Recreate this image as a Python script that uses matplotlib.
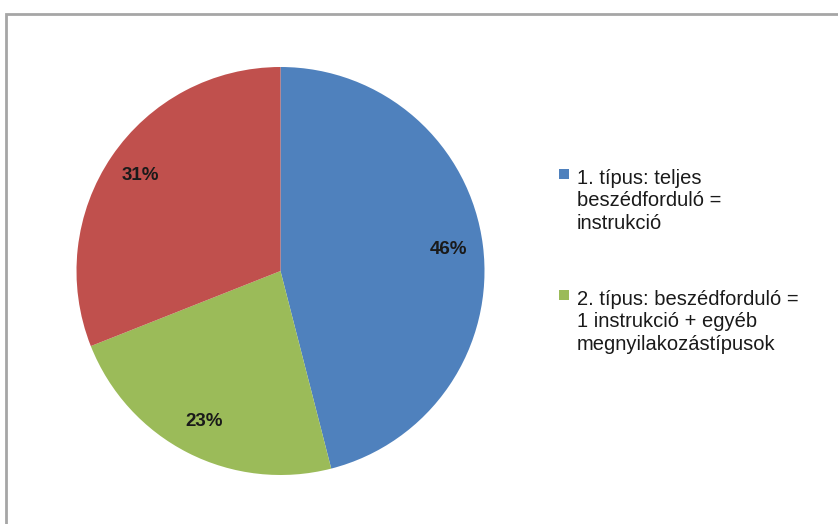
import matplotlib
matplotlib.use("Agg")
import matplotlib.pyplot as plt
from matplotlib.patches import Rectangle

categories = ["1. típus: teljes\nbeszédforduló =\ninstrukció",
              "2. típus: beszédforduló =\n1 instrukció + egyéb\nmegnyilakozástípusok",
              "3. típus"]
values = [46, 23, 31]
colors = ["#4F81BD", "#9BBB59", "#C0504D"]

plt.rcParams['font.family'] = ['Liberation Sans', 'DejaVu Sans']

W, H = 838, 524
fig = plt.figure(figsize=(W/100, H/100), dpi=100)
fig.patch.set_facecolor("white")

# outer frame (only top and left visible)
fig.patches.append(Rectangle((5.5/W, -0.2), 1.2, 1 - 13.5/H + 0.2, transform=fig.transFigure,
                             fill=False, edgecolor="#A6A6A6", linewidth=2))

cx, cy, r = 280.5, 271, 204
ax = fig.add_axes([(cx - r)/W, (H - cy - r)/H, 2*r/W, 2*r/H])
wedges, texts, autotexts = ax.pie(values, colors=colors, startangle=90, counterclock=False,
                                  autopct=lambda p: f"{p:.0f}%", pctdistance=0.83,
                                  radius=1, wedgeprops=dict(linewidth=0))
for t in autotexts:
    t.set_fontsize(13.5)
    t.set_fontweight("bold")
    t.set_color("#1a1a1a")
ax.set_xlim(-1, 1)
ax.set_ylim(-1, 1)
ax.axis("off")

# legend (first two entries visible), handle aligned with first text line
leg_x_px, text_x_px = 559, 577
entry_top_px = [169, 290]
for i in range(2):
    top = entry_top_px[i]
    fig.text(text_x_px/W, 1 - top/H, categories[i], ha="left", va="top",
             fontsize=14.5, color="#1a1a1a", linespacing=1.22)
    fig.patches.append(Rectangle((leg_x_px/W, 1 - (top + 10)/H), 10/W, 10/H,
                                 transform=fig.transFigure, facecolor=colors[i],
                                 edgecolor="none"))

fig.savefig("out.png", dpi=100, facecolor="white")
